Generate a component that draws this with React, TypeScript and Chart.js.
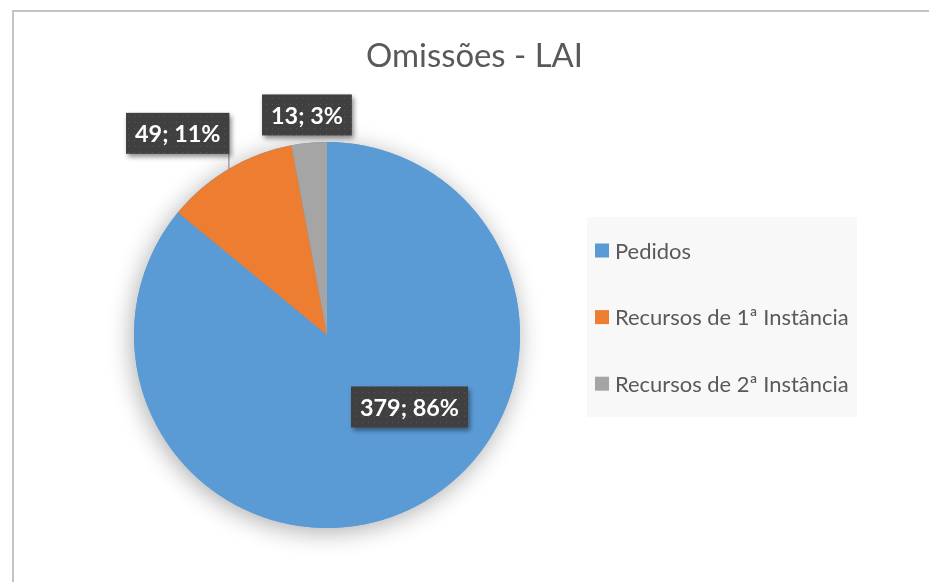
import React, { useEffect, useRef } from "react";
import { Chart, registerables } from "chart.js";
Chart.register(...registerables);

const chartTitle = "Omissões - LAI";
const categories = ["Pedidos", "Recursos de 1ª Instância", "Recursos de 2ª Instância"];
const values = [379, 49, 13];
const sliceColors = ["#5B9BD5", "#ED7D31", "#A5A5A5"];
// label placement relative to each slice: angle offset from slice middle (deg) and radius factor
const labelAngleOffsets = [-23.6, -5.9, 0.1];
const labelRadiusFactors = [0.567, 1.3, 1.145];

const FONT = "Lato, 'Open Sans', sans-serif";
const TEXT = "#595959";

function fitSize(ctx: CanvasRenderingContext2D, text: string, weight: string, target: number) {
  ctx.font = `${weight} 100px ${FONT}`;
  const w = ctx.measureText(text).width;
  return (100 * target) / w;
}

function makePattern(ctx: CanvasRenderingContext2D) {
  const c = document.createElement("canvas");
  c.width = 6;
  c.height = 6;
  const p = c.getContext("2d")!;
  p.fillStyle = "#404040";
  p.fillRect(0, 0, 6, 6);
  p.fillStyle = "#585858";
  p.fillRect(2, 2, 1, 1);
  return ctx.createPattern(c, "repeat")!;
}

const decorPlugin = {
  id: "decor",
  beforeDraw(chart: any) {
    const ctx = chart.ctx as CanvasRenderingContext2D;
    ctx.save();
    ctx.fillStyle = "#ffffff";
    ctx.fillRect(0, 0, chart.width, chart.height);
    ctx.fillStyle = "#c4c4c4";
    ctx.fillRect(12, 10, chart.width - 12, 2);
    ctx.fillRect(12, 10, 2, chart.height - 10);
    ctx.restore();
  },
  beforeDatasetsDraw(chart: any) {
    const ctx = chart.ctx as CanvasRenderingContext2D;
    const arc = chart.getDatasetMeta(0).data[0];
    if (!arc) return;
    ctx.save();
    ctx.shadowColor = "rgba(0,0,0,0.32)";
    ctx.shadowBlur = 24;
    ctx.shadowOffsetX = -2;
    ctx.shadowOffsetY = 4;
    ctx.fillStyle = sliceColors[0];
    ctx.beginPath();
    ctx.arc(arc.x, arc.y, arc.outerRadius, 0, Math.PI * 2);
    ctx.fill();
    ctx.restore();
  },
  afterDraw(chart: any) {
    const ctx = chart.ctx as CanvasRenderingContext2D;
    const labels: string[] = chart.data.labels;
    const data: number[] = chart.data.datasets[0].data;
    const colors: string[] = chart.data.datasets[0].backgroundColor;
    const total = data.reduce((a, b) => a + b, 0);

    // title
    ctx.save();
    const ts = fitSize(ctx, chartTitle, "400", 217);
    ctx.font = `400 ${ts}px ${FONT}`;
    ctx.fillStyle = TEXT;
    ctx.textAlign = "center";
    ctx.textBaseline = "alphabetic";
    ctx.fillText(chartTitle, 474.5, 67);
    ctx.restore();

    // legend
    ctx.save();
    ctx.fillStyle = "#f8f8f8";
    ctx.fillRect(587, 217, 270, 200);
    const ls = fitSize(ctx, labels[0], "400", 76);
    ctx.font = `400 ${ls}px ${FONT}`;
    ctx.textBaseline = "alphabetic";
    ctx.textAlign = "left";
    labels.forEach((l, i) => {
      const cy = 250.5 + i * 66.6;
      ctx.fillStyle = colors[i];
      ctx.fillRect(595, cy - 7, 14, 14);
      ctx.fillStyle = TEXT;
      ctx.fillText(l, 615, cy + 8);
    });
    ctx.restore();

    // data labels
    const meta = chart.getDatasetMeta(0);
    const pattern = makePattern(ctx);
    const bs = fitSize(ctx, "379; 86%", "700", 99);
    meta.data.forEach((arc: any, i: number) => {
      const mid = (arc.startAngle + arc.endAngle) / 2 + (labelAngleOffsets[i] * Math.PI) / 180;
      const r = arc.outerRadius * labelRadiusFactors[i];
      const cx = arc.x + Math.cos(mid) * r;
      const cy = arc.y + Math.sin(mid) * r;
      const text = `${data[i]}; ${Math.round((data[i] / total) * 100)}%`;
      ctx.save();
      ctx.font = `700 ${bs}px ${FONT}`;
      const tw = ctx.measureText(text).width;
      const bw = tw + 18;
      const bh = 41;
      const bx = cx - bw / 2;
      const by = cy - bh / 2;
      // leader line
      if (labelRadiusFactors[i] > 1) {
        const px = Math.min(Math.max(arc.x, bx), bx + bw - 1);
        const py = Math.min(Math.max(arc.y, by), by + bh);
        const dx = px - arc.x;
        if (Math.abs(dx) < arc.outerRadius) {
          const ey = arc.y - Math.sign(arc.y - py) * Math.sqrt(arc.outerRadius ** 2 - dx * dx) * -1;
          const edgeY = py < arc.y ? arc.y - Math.sqrt(arc.outerRadius ** 2 - dx * dx) : arc.y + Math.sqrt(arc.outerRadius ** 2 - dx * dx);
          void ey;
          if (Math.abs(edgeY - py) > 10) {
            ctx.strokeStyle = "#7f7f7f";
            ctx.lineWidth = 1;
            ctx.beginPath();
            ctx.moveTo(px + 0.5, py);
            ctx.lineTo(px + 0.5, edgeY);
            ctx.stroke();
          }
        }
      }
      ctx.shadowColor = "rgba(0,0,0,0.45)";
      ctx.shadowBlur = 5;
      ctx.shadowOffsetX = 2;
      ctx.shadowOffsetY = 3;
      ctx.fillStyle = pattern;
      ctx.fillRect(bx, by, bw, bh);
      ctx.shadowColor = "transparent";
      ctx.fillStyle = "#ffffff";
      ctx.textAlign = "center";
      ctx.textBaseline = "alphabetic";
      ctx.fillText(text, cx, cy + 9);
      ctx.restore();
    });
  },
};

export default function App() {
  const ref = useRef<HTMLCanvasElement>(null);
  useEffect(() => {
    document.body.style.margin = "0";
    const chart = new Chart(ref.current!, {
      type: "pie",
      data: {
        labels: categories,
        datasets: [
          {
            data: values,
            backgroundColor: sliceColors,
            borderWidth: 0,
          },
        ],
      },
      options: {
        responsive: false,
        animation: false,
        events: [],
        layout: { padding: { left: 134, right: 409, top: 142, bottom: 54 } },
        plugins: {
          legend: { display: false },
          title: { display: false },
          tooltip: { enabled: false },
        },
      },
      plugins: [decorPlugin],
    });
    return () => chart.destroy();
  }, []);
  return (
    <div style={{ position: "absolute", left: 0, top: 0, width: 929, height: 582 }}>
      <canvas ref={ref} width={929} height={582} style={{ display: "block" }} />
    </div>
  );
}
